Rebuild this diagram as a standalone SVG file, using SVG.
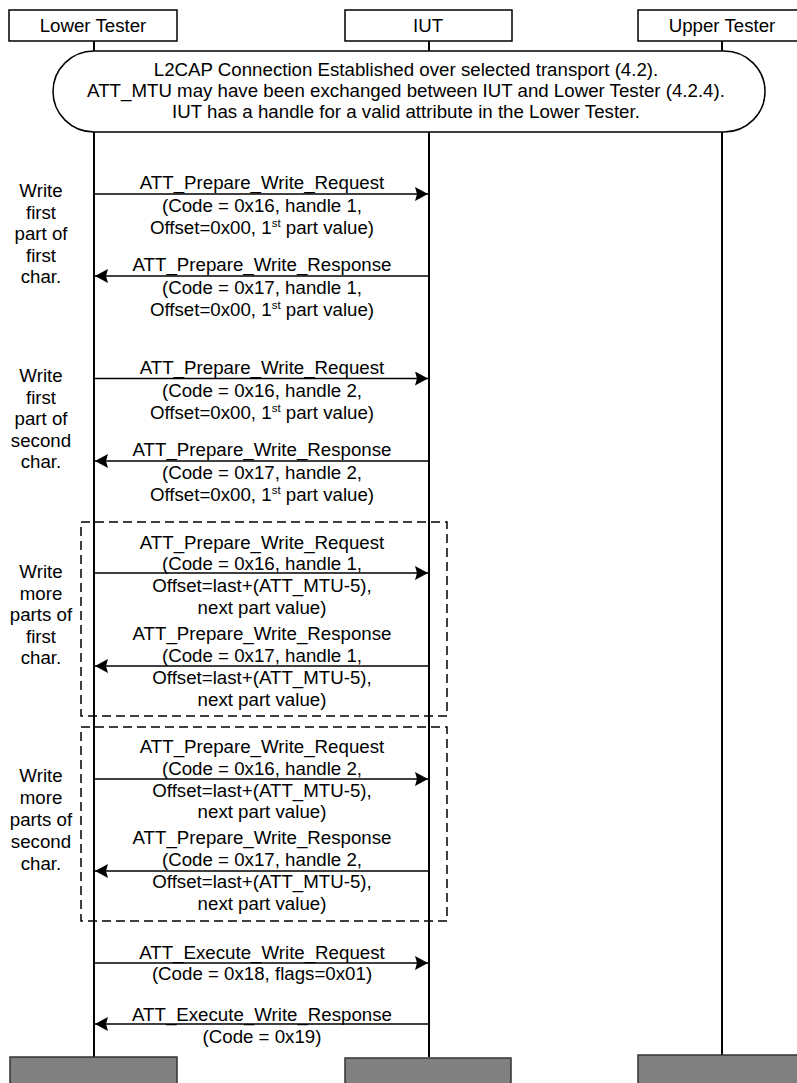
<svg xmlns="http://www.w3.org/2000/svg" width="797" height="1083" viewBox="0 0 797 1083">
<style>
text{font-family:"Liberation Sans",Arial,sans-serif;font-size:18.7px;fill:#000}
.c{text-anchor:middle}
.sup{font-size:11.5px}
.box{fill:#fff;stroke:#000;stroke-width:1.5}
.end{fill:#808080;stroke:#333;stroke-width:1.5}
.life{stroke:#000;stroke-width:2;fill:none}
.msg{stroke:#000;stroke-width:1.5;fill:none;marker-end:url(#ah)}
.frame{fill:none;stroke:#000;stroke-width:1.5;stroke-dasharray:9 5}
</style>
<defs>
<marker id="ah" markerUnits="userSpaceOnUse" markerWidth="14" markerHeight="15" refX="13" refY="7" orient="auto">
<path d="M0,0 L13,7 L0,14 L2,7 z" fill="#000"/>
</marker>
</defs>
<rect width="797" height="1083" fill="#fff"/>

<g id="lifelines">
<line class="life" x1="94" y1="41" x2="94" y2="1057"/>
<line class="life" x1="429" y1="41" x2="429" y2="1057"/>
<line class="life" x1="722" y1="41" x2="722" y2="1055"/>
</g>

<g id="lower-tester">
<rect class="box" x="9" y="10" width="168" height="31"/>
<text class="c" x="93" y="32">Lower Tester</text>
<rect class="end" x="10" y="1057" width="167" height="30"/>
</g>
<g id="iut">
<rect class="box" x="345" y="10" width="167" height="31"/>
<text class="c" x="428" y="32">IUT</text>
<rect class="end" x="345" y="1058" width="166" height="30"/>
</g>
<g id="upper-tester">
<rect class="box" x="638" y="10" width="168" height="31"/>
<text class="c" x="722" y="32">Upper Tester</text>
<rect class="end" x="638" y="1055" width="168" height="32"/>
</g>

<g id="precondition">
<rect class="box" x="53" y="51" width="712" height="81" rx="41" ry="40.5"/>
<text class="c" x="406" y="76">L2CAP Connection Established over selected transport (4.2).</text>
<text class="c" x="406" y="97">ATT_MTU may have been exchanged between IUT and Lower Tester (4.2.4).</text>
<text class="c" x="406" y="118">IUT has a handle for a valid attribute in the Lower Tester.</text>
</g>

<g id="frames">
<rect class="frame" x="81" y="522" width="366" height="194"/>
<rect class="frame" x="81" y="727" width="366" height="194"/>
</g>

<g id="step-labels">
<text class="c" x="41"><tspan x="41" y="197">Write</tspan><tspan x="41" y="218.5">first</tspan><tspan x="41" y="240">part of</tspan><tspan x="41" y="261.5">first</tspan><tspan x="41" y="283">char.</tspan></text>
<text class="c" x="41"><tspan x="41" y="382">Write</tspan><tspan x="41" y="403.5">first</tspan><tspan x="41" y="425">part of</tspan><tspan x="41" y="446.5">second</tspan><tspan x="41" y="468">char.</tspan></text>
<text class="c" x="41"><tspan x="41" y="578">Write</tspan><tspan x="41" y="599.5">more</tspan><tspan x="41" y="621">parts of</tspan><tspan x="41" y="642.5">first</tspan><tspan x="41" y="664">char.</tspan></text>
<text class="c" x="41"><tspan x="41" y="782">Write</tspan><tspan x="41" y="804">more</tspan><tspan x="41" y="826">parts of</tspan><tspan x="41" y="848">second</tspan><tspan x="41" y="870">char.</tspan></text>
</g>

<g id="connectors">
<line class="msg" x1="95" y1="194" x2="428" y2="194"/>
<text class="c" x="262" y="189">ATT_Prepare_Write_Request</text>
<text class="c" x="262" y="212">(Code = 0x16, handle 1,</text>
<text class="c" x="262" y="234">Offset=0x00, 1<tspan class="sup" dy="-7">st</tspan><tspan dy="7"> part value)</tspan></text>

<line class="msg" x1="428" y1="276" x2="95" y2="276"/>
<text class="c" x="262" y="271">ATT_Prepare_Write_Response</text>
<text class="c" x="262" y="293.5">(Code = 0x17, handle 1,</text>
<text class="c" x="262" y="315.5">Offset=0x00, 1<tspan class="sup" dy="-7">st</tspan><tspan dy="7"> part value)</tspan></text>

<line class="msg" x1="95" y1="378.5" x2="428" y2="378.5"/>
<text class="c" x="262" y="373.5">ATT_Prepare_Write_Request</text>
<text class="c" x="262" y="396.5">(Code = 0x16, handle 2,</text>
<text class="c" x="262" y="418.5">Offset=0x00, 1<tspan class="sup" dy="-7">st</tspan><tspan dy="7"> part value)</tspan></text>

<line class="msg" x1="428" y1="461" x2="95" y2="461"/>
<text class="c" x="262" y="456">ATT_Prepare_Write_Response</text>
<text class="c" x="262" y="478.5">(Code = 0x17, handle 2,</text>
<text class="c" x="262" y="500.5">Offset=0x00, 1<tspan class="sup" dy="-7">st</tspan><tspan dy="7"> part value)</tspan></text>

<line class="msg" x1="95" y1="573" x2="428" y2="573"/>
<text class="c" x="262" y="548.5">ATT_Prepare_Write_Request</text>
<text class="c" x="262" y="570">(Code = 0x16, handle 1,</text>
<text class="c" x="262" y="592">Offset=last+(ATT_MTU-5),</text>
<text class="c" x="262" y="613.5">next part value)</text>

<line class="msg" x1="428" y1="666" x2="95" y2="666"/>
<text class="c" x="262" y="639.5">ATT_Prepare_Write_Response</text>
<text class="c" x="262" y="661.5">(Code = 0x17, handle 1,</text>
<text class="c" x="262" y="684">Offset=last+(ATT_MTU-5),</text>
<text class="c" x="262" y="705.5">next part value)</text>

<line class="msg" x1="95" y1="779" x2="428" y2="779"/>
<text class="c" x="262" y="752.5">ATT_Prepare_Write_Request</text>
<text class="c" x="262" y="774.5">(Code = 0x16, handle 2,</text>
<text class="c" x="262" y="796.5">Offset=last+(ATT_MTU-5),</text>
<text class="c" x="262" y="818">next part value)</text>

<line class="msg" x1="428" y1="871" x2="95" y2="871"/>
<text class="c" x="262" y="844">ATT_Prepare_Write_Response</text>
<text class="c" x="262" y="866">(Code = 0x17, handle 2,</text>
<text class="c" x="262" y="888">Offset=last+(ATT_MTU-5),</text>
<text class="c" x="262" y="909.5">next part value)</text>

<line class="msg" x1="95" y1="963" x2="428" y2="963"/>
<text class="c" x="262" y="959">ATT_Execute_Write_Request</text>
<text class="c" x="262" y="979.5">(Code = 0x18, flags=0x01)</text>

<line class="msg" x1="428" y1="1024" x2="95" y2="1024"/>
<text class="c" x="262" y="1020.5">ATT_Execute_Write_Response</text>
<text class="c" x="262" y="1043">(Code = 0x19)</text>
</g>
</svg>
